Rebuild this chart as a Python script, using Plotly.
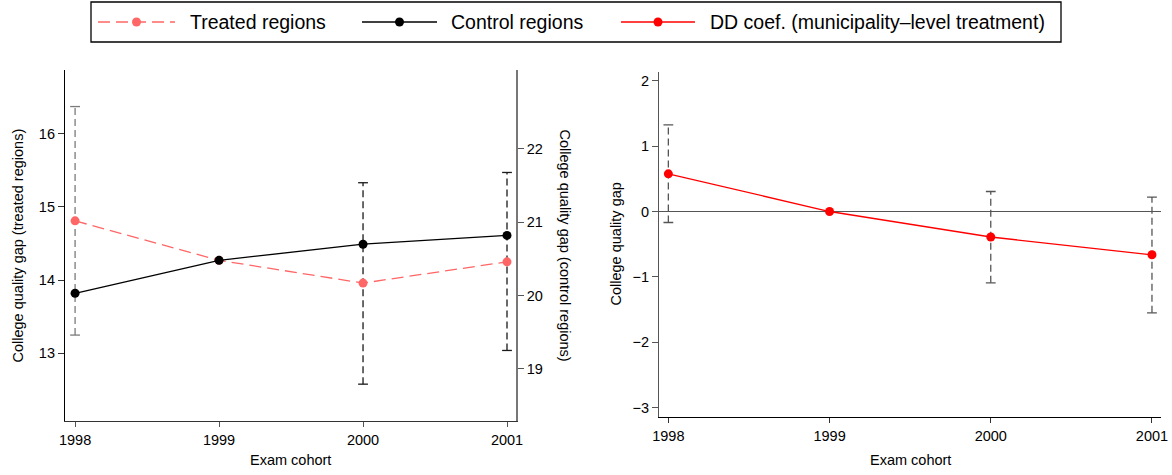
import plotly.graph_objects as go

# Exam cohorts
years = [1998, 1999, 2000, 2001]

# Left panel: raw college quality gap
treated = [14.81, 14.27, 13.96, 14.25]          # left axis
control = [20.03, 20.48, 20.70, 20.82]          # right axis
treated_ci_lo = [13.25, None, 12.58, 13.04]
treated_ci_hi = [16.37, None, 15.33, 15.47]
treated_ci_color = ["#7a7a7a", None, "#1a1a1a", "#1a1a1a"]

# Right panel: difference-in-differences coefficients
dd_coef = [0.576, 0.0, -0.39, -0.662]
dd_ci_lo = [-0.168, None, -1.09, -1.55]
dd_ci_hi = [1.326, None, 0.306, 0.22]

left_ticks = [13, 14, 15, 16]
right_ticks = [19, 20, 21, 22]
dd_ticks = [-3, -2, -1, 0, 1, 2]

series_names = ["Treated regions", "Control regions",
                "DD coef. (municipality\u2013level treatment)"]
series_colors = ["#ff6666", "black", "#ff0000"]
series_dash = ["12px,6px", "solid", "solid"]

W, H = 1172, 475
FONT = "Liberation Sans, Arial, Helvetica, sans-serif"

# Legend geometry in pixels (box, key line spans, label starts)
LEG_BOX = (91, 2, 1061, 42)
LEG_KEYS = [(98, 175), (362, 437), (621, 695)]
LEG_TEXT_X = [188, 449, 708]
LEG_Y = 22


def px_x(x):
    return x / W


def px_y(y):
    return 1 - y / H


fig = go.Figure()


def add_ci(xs, lo, hi, colors, xaxis, yaxis):
    for x, l, h, c in zip(xs, lo, hi, colors):
        if l is None:
            continue
        fig.add_trace(go.Scatter(
            x=[x, x], y=[l, h], mode="lines", xaxis=xaxis, yaxis=yaxis,
            line=dict(color=c, width=1.3, dash="7px,4px"),
            showlegend=False, hoverinfo="skip"))
        fig.add_trace(go.Scatter(
            x=[x, x], y=[l, h], mode="markers", xaxis=xaxis, yaxis=yaxis,
            marker=dict(symbol="line-ew", size=7, line=dict(color=c, width=1.3)),
            showlegend=False, hoverinfo="skip"))


add_ci(years, treated_ci_lo, treated_ci_hi, treated_ci_color, "x", "y")
add_ci(years, dd_ci_lo, dd_ci_hi, ["#555555"] * 4, "x2", "y3")

for vals, name, color, dash, xa, ya in zip(
        [treated, control, dd_coef], series_names, series_colors, series_dash,
        ["x", "x", "x2"], ["y", "y2", "y3"]):
    fig.add_trace(go.Scatter(
        x=years, y=vals, name=name, mode="lines+markers", xaxis=xa, yaxis=ya,
        line=dict(color=color, width=1.3, dash=dash),
        marker=dict(color=color, size=9), showlegend=False))

# Legend keys drawn on a hidden pixel-scaled axis pair
for (x0, x1), color, dash in zip(LEG_KEYS, series_colors, series_dash):
    fig.add_trace(go.Scatter(
        x=[x0, x1], y=[LEG_Y, LEG_Y], mode="lines", xaxis="x3", yaxis="y4",
        line=dict(color=color, width=1.5, dash=dash),
        showlegend=False, hoverinfo="skip"))
    fig.add_trace(go.Scatter(
        x=[(x0 + x1) / 2], y=[LEG_Y], mode="markers", xaxis="x3", yaxis="y4",
        marker=dict(color=color, size=9), showlegend=False, hoverinfo="skip"))

tick_font = dict(family=FONT, size=14.5, color="black")
common = dict(showgrid=False, zeroline=False, ticks="outside", tickfont=tick_font,
              showline=True, fixedrange=True, automargin=False)

fig.update_layout(
    template="none",
    width=W, height=H,
    margin=dict(l=0, r=0, t=0, b=0, pad=0),
    paper_bgcolor="white", plot_bgcolor="rgba(0,0,0,0)",
    font=dict(family=FONT, color="black"),
    showlegend=False,
    xaxis=dict(domain=[px_x(65), px_x(516)], range=[1997.93, 2001.0625],
               tickvals=years, ticklen=5, tickcolor="#555", linecolor="#333",
               linewidth=1.2, anchor="y", **common),
    yaxis=dict(domain=[px_y(421), px_y(70)], range=[12.077, 16.869],
               tickvals=left_ticks, ticklen=6, tickcolor="#333", linecolor="black",
               linewidth=1.2, anchor="x", **common),
    yaxis2=dict(range=[18.287, 23.078], tickvals=right_ticks, overlaying="y",
                side="right", anchor="x", ticklen=6, tickcolor="#555",
                linecolor="#777", linewidth=1.5, **common),
    xaxis2=dict(domain=[px_x(659), px_x(1161)], range=[1997.942, 2001.056],
                tickvals=years, ticklen=5, tickcolor="#333", linecolor="black",
                linewidth=1.2, anchor="y3", **common),
    yaxis3=dict(domain=[px_y(417.3), px_y(71.7)], range=[-3.147, 2.138],
                tickvals=dd_ticks, ticklen=6, tickcolor="#555", linecolor="#555",
                linewidth=1.2, anchor="x2",
                **{k: v for k, v in common.items() if k != "zeroline"},
                zeroline=True, zerolinecolor="#555", zerolinewidth=1.2),
    xaxis3=dict(domain=[0, 1], range=[0, W], visible=False, fixedrange=True,
                anchor="y4"),
    yaxis4=dict(domain=[0, 1], range=[H, 0], visible=False, fixedrange=True,
                anchor="x3"),
)

# Legend frame
fig.add_shape(type="rect", xref="paper", yref="paper",
              x0=px_x(LEG_BOX[0]), y0=px_y(LEG_BOX[3]),
              x1=px_x(LEG_BOX[2]), y1=px_y(LEG_BOX[1]),
              line=dict(color="black", width=1.3), fillcolor="rgba(0,0,0,0)",
              layer="below")

for name, tx in zip(series_names, LEG_TEXT_X):
    fig.add_annotation(xref="paper", yref="paper", x=px_x(tx), y=px_y(LEG_Y),
                       text=name, showarrow=False, xanchor="left",
                       yanchor="middle",
                       font=dict(family=FONT, size=19.5, color="black"))

title_font = dict(family=FONT, size=14.5, color="black")
annotations = [
    dict(text="College quality gap (treated regions)", x=px_x(17), y=px_y(245.5),
         textangle=-90),
    dict(text="College quality gap (control regions)", x=px_x(565), y=px_y(245.5),
         textangle=90),
    dict(text="College quality gap", x=px_x(615), y=px_y(244.5), textangle=-90),
    dict(text="Exam cohort", x=px_x(290.5), y=px_y(460)),
    dict(text="Exam cohort", x=px_x(910), y=px_y(460)),
]
for a in annotations:
    fig.add_annotation(xref="paper", yref="paper", showarrow=False,
                       xanchor="center", yanchor="middle", font=title_font, **a)

fig.write_html("out.html")
